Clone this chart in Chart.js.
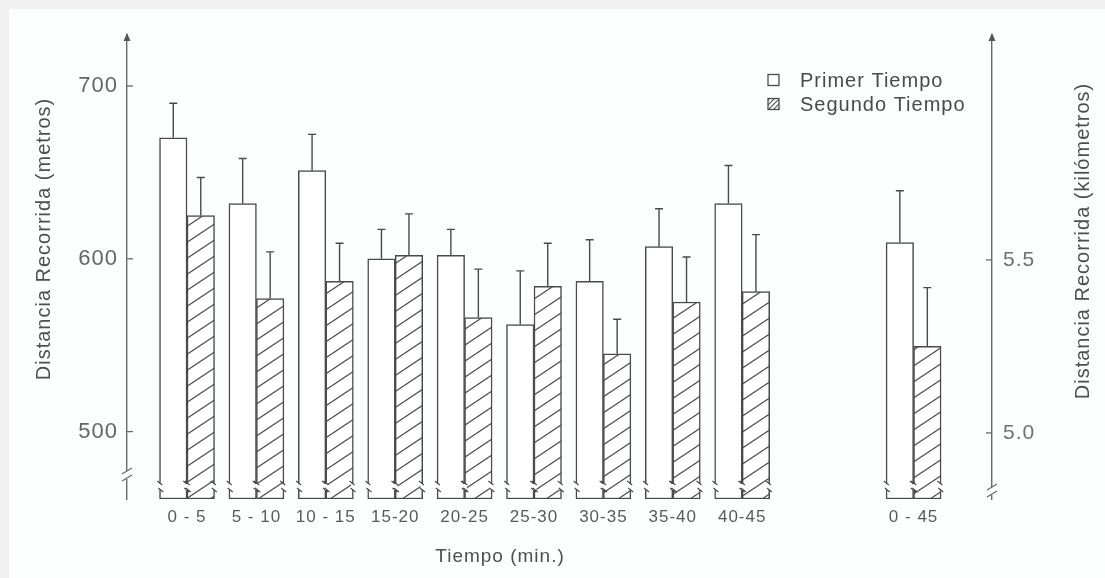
<!DOCTYPE html>
<html><head><meta charset="utf-8">
<script src="https://cdn.jsdelivr.net/npm/chart.js@4.4.1/dist/chart.umd.min.js"></script>
<style>
html,body{margin:0;padding:0;background:#f0f0f0;width:1105px;height:578px;overflow:hidden}
#wrap{position:absolute;left:9px;top:9px;width:1096px;height:569px;background:#fdfefe}
</style></head><body><div id="wrap"><canvas id="c"></canvas></div>
<script>
// ---------- DATA ----------
const categories = ['0 - 5', '5 - 10', '10 - 15', '15-20', '20-25', '25-30', '30-35', '35-40', '40-45'];
const primerTiempo = [670, 632, 651, 600, 602, 562, 587, 607, 632];      // metros
const primerSD = [20, 26, 21, 17, 15, 31, 24, 22, 22];
const segundoTiempo = [625, 577, 587, 602, 566, 584, 545, 575, 581];     // metros
const segundoSD = [22, 27, 22, 24, 28, 25, 20, 26, 33];
const totalLabel = '0 - 45';
const primerTotalKm = 5.55;
const primerTotalSD = 0.15;
const segundoTotalKm = 5.25;
const segundoTotalSD = 0.17;
const metrosTicks = [500, 600, 700];
const kmTicks = [5.0, 5.5];
const seriesNames = ['Primer Tiempo', 'Segundo Tiempo'];

// ---------- LAYOUT / STYLE ----------
const TOTAL_GAP = 2.47;          // slots between 40-45 and 0-45 groups
const Y_MIN = 461, Y_MAX = 729.5;
const Y2_MIN = 4.809, Y2_MAX = 6.150;
const INK = '#4a4a4a';
const BG = '#fdfefe';
const FONT = "'Liberation Sans', Arial, sans-serif";
const n = categories.length;
const allLabels = categories.concat([totalLabel]);
const xs = allLabels.map((_, i) => i < n ? i : (n - 1) + TOTAL_GAP);

const canvas = document.getElementById('c');
const ctx0 = canvas.getContext('2d');
function makeHatch(w, h, color, lw) {
  const c = document.createElement('canvas'); c.width = w; c.height = h;
  const g = c.getContext('2d');
  g.fillStyle = '#ffffff'; g.fillRect(0, 0, w, h);
  g.strokeStyle = color; g.lineWidth = lw;
  for (const [dx, dy] of [[0,0],[0,-h],[0,h],[-w,0],[w,0]]) {
    g.beginPath(); g.moveTo(dx, h + dy); g.lineTo(w + dx, dy); g.stroke();
  }
  return ctx0.createPattern(c, 'repeat');
}
const hatch = makeHatch(24, 16, '#505050', 1.3);
const hatchSmall = makeHatch(5, 5, '#505050', 1.1);

function mk(vals, isTotal) {
  return xs.map((x, i) => ({ x, y: isTotal ? (i === n ? vals : null) : (i < n ? vals[i] : null) }));
}
function mkErr(sd, isTotal) {
  return xs.map((x, i) => isTotal ? (i === n ? sd : null) : (i < n ? sd[i] : null));
}
const common = { borderColor: INK, borderWidth: 1.5, borderSkipped: false, barThickness: 27.5 };
const datasets = [
  Object.assign({ label: seriesNames[0], data: mk(primerTiempo, false), errors: mkErr(primerSD, false), backgroundColor: '#ffffff', yAxisID: 'y', base: Y_MIN }, common),
  Object.assign({ label: seriesNames[1], data: mk(segundoTiempo, false), errors: mkErr(segundoSD, false), backgroundColor: hatch, yAxisID: 'y', base: Y_MIN }, common),
  Object.assign({ label: seriesNames[0] + ' total', data: mk(primerTotalKm, true), errors: mkErr(primerTotalSD, true), backgroundColor: '#ffffff', yAxisID: 'y2', base: Y2_MIN }, common),
  Object.assign({ label: seriesNames[1] + ' total', data: mk(segundoTotalKm, true), errors: mkErr(segundoTotalSD, true), backgroundColor: hatch, yAxisID: 'y2', base: Y2_MIN }, common),
];

const spacingPlugin = {
  id: 'spacing',
  beforeUpdate(chart) { chart.ctx.letterSpacing = '1px'; },
  beforeLayout(chart) { chart.ctx.letterSpacing = '1px'; },
  beforeDraw(chart) { chart.ctx.letterSpacing = '1px'; }
};

const decorPlugin = {
  id: 'decor',
  afterDatasetsDraw(chart) {
    const ctx = chart.ctx;
    const ca = chart.chartArea;
    ctx.save();
    ctx.strokeStyle = INK; ctx.lineWidth = 1.4;
    chart.data.datasets.forEach((ds, di) => {
      const meta = chart.getDatasetMeta(di);
      const ys = chart.scales[ds.yAxisID];
      meta.data.forEach((bar, i) => {
        const v = ds.data[i].y, e = ds.errors[i];
        if (v == null || e == null) return;
        const yt = ys.getPixelForValue(v + e);
        const yb = ys.getPixelForValue(v);
        ctx.lineWidth = 1.4;
        ctx.beginPath();
        ctx.moveTo(bar.x, yb); ctx.lineTo(bar.x, yt);
        ctx.moveTo(bar.x - 4, yt); ctx.lineTo(bar.x + 4, yt);
        ctx.stroke();
        // break marks at bar edges
        const yk = ca.bottom - 12;
        for (const ex of [bar.x - bar.width / 2 + 0.75, bar.x + bar.width / 2 - 0.75]) {
          ctx.fillStyle = BG;
          ctx.fillRect(ex - 1.5, yk - 3, 3, 6);
          ctx.lineWidth = 1.1;
          ctx.beginPath();
          ctx.moveTo(ex - 3, yk - 6); ctx.lineTo(ex + 2, yk - 2);
          ctx.moveTo(ex - 2, yk + 1); ctx.lineTo(ex + 3, yk + 5);
          ctx.stroke();
        }
      });
    });
    ctx.restore();
  },
  afterDraw(chart) {
    const ctx = chart.ctx;
    const ca = chart.chartArea;
    ctx.save();
    ctx.letterSpacing = '1px';
    ctx.strokeStyle = '#6a6a6a'; ctx.fillStyle = '#555'; ctx.lineWidth = 1.3;
    for (const x of [ca.left, ca.right]) {
      ctx.beginPath();
      ctx.moveTo(x, ca.top - 2); ctx.lineTo(x - 3.5, ca.top + 6); ctx.lineTo(x + 3.5, ca.top + 6);
      ctx.closePath(); ctx.fill();
    }
    const ly = chart.scales.y, ry = chart.scales.y2;
    ly.ticks.forEach(t => { const p = ly.getPixelForValue(t.value); ctx.beginPath(); ctx.moveTo(ca.left, p); ctx.lineTo(ca.left + 6, p); ctx.stroke(); });
    ry.ticks.forEach(t => { const p = ry.getPixelForValue(t.value); ctx.beginPath(); ctx.moveTo(ca.right - 6, p); ctx.lineTo(ca.right, p); ctx.stroke(); });
    const brk = (x, yc) => {
      ctx.fillStyle = BG;
      ctx.fillRect(x - 3, yc - 4, 6, 8);
      ctx.beginPath();
      ctx.moveTo(x - 5, yc - 1); ctx.lineTo(x + 5, yc - 7);
      ctx.moveTo(x - 5, yc + 6); ctx.lineTo(x + 5, yc);
      ctx.stroke();
    };
    brk(ca.left, ca.bottom - 24);
    brk(ca.right, ca.bottom - 8);
    ctx.fillStyle = '#4f4f4f';
    ctx.font = '20px ' + FONT;
    ctx.textAlign = 'center'; ctx.textBaseline = 'middle';
    ctx.save(); ctx.translate(35, 230); ctx.rotate(-Math.PI / 2);
    ctx.fillText('Distancia Recorrida (metros)', 0, 0); ctx.restore();
    ctx.save(); ctx.translate(1074, 232); ctx.rotate(-Math.PI / 2);
    ctx.fillText('Distancia Recorrida (kilómetros)', 0, 0); ctx.restore();
    ctx.font = '19px ' + FONT;
    ctx.fillText('Tiempo (min.)', 491, 548);
    ctx.textAlign = 'left';
    ctx.font = '20px ' + FONT;
    const lx = 759, rows = [71, 95];
    [['#ffffff', seriesNames[0]], [hatchSmall, seriesNames[1]]].forEach(([fill, txt], k) => {
      ctx.fillStyle = fill;
      ctx.fillRect(lx, rows[k] - 5.5, 11, 11);
      ctx.strokeStyle = INK; ctx.lineWidth = 1.3;
      ctx.strokeRect(lx, rows[k] - 5.5, 11, 11);
      ctx.fillStyle = '#4a4a4a';
      ctx.fillText(txt, 791, rows[k] + 1);
    });
    ctx.restore();
  }
};

new Chart(canvas, {
  type: 'bar',
  data: { datasets },
  plugins: [spacingPlugin, decorPlugin],
  options: {
    responsive: true,
    maintainAspectRatio: false,
    animation: false,
    skipNull: true,
    layout: { padding: { top: 26, left: 0, right: 0, bottom: 0 } },
    plugins: { legend: { display: false }, tooltip: { enabled: false } },
    scales: {
      x: {
        type: 'linear', offset: false,
        min: -0.865, max: 11.6,
        grid: { display: false, drawTicks: false },
        border: { display: false },
        afterBuildTicks: s => { s.ticks = xs.map(v => ({ value: v })); },
        afterFit: s => { s.height = 79; },
        ticks: { autoSkip: false, maxRotation: 0, padding: 8, color: '#5a5a5a',
                 font: { family: FONT, size: 17 },
                 callback: (v, i) => allLabels[i] }
      },
      y: {
        type: 'linear', position: 'left', beginAtZero: false,
        min: Y_MIN, max: Y_MAX,
        grid: { display: false, drawTicks: false },
        border: { display: true, color: '#6a6a6a', width: 1.4 },
        afterBuildTicks: s => { s.ticks = metrosTicks.map(v => ({ value: v })); },
        afterFit: s => { s.width = 118; },
        ticks: { padding: 9, color: '#666', font: { family: FONT, size: 22 }, callback: v => v }
      },
      y2: {
        type: 'linear', position: 'right', beginAtZero: false,
        min: Y2_MIN, max: Y2_MAX,
        grid: { display: false, drawTicks: false },
        border: { display: true, color: '#6a6a6a', width: 1.4 },
        afterBuildTicks: s => { s.ticks = kmTicks.map(v => ({ value: v })); },
        afterFit: s => { s.width = 113; },
        ticks: { padding: 11, color: '#707070', font: { family: FONT, size: 21 }, callback: v => Number(v).toFixed(1) }
      }
    }
  }
});
</script></body></html>
